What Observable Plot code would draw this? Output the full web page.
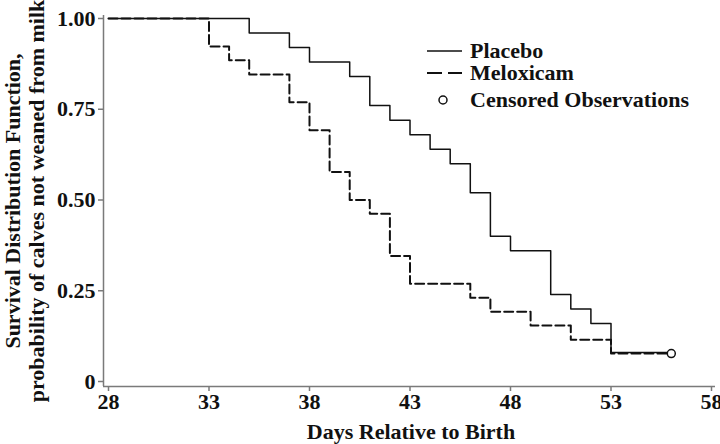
<!DOCTYPE html>
<html>
<head>
<meta charset="utf-8">
<script src="https://cdn.jsdelivr.net/npm/d3@7"></script>
<script src="https://cdn.jsdelivr.net/npm/@observablehq/plot@0.6"></script>
<style>
  html, body { margin: 0; padding: 0; background: #fff; }
  #chart { width: 720px; height: 444px; position: relative; }
</style>
</head>
<body>
<div id="chart"></div>
<script>
// Kaplan–Meier survival estimates (step-after)
const placeboDays = [28, 35, 37, 38, 40, 41, 42, 43, 44, 45, 46, 47, 48, 50, 51, 52, 53, 56];
const placeboSurv = [1.00, 0.96, 0.92, 0.88, 0.84, 0.76, 0.72, 0.68, 0.64, 0.60, 0.52, 0.40, 0.36, 0.24, 0.20, 0.16, 0.08, 0.08];
const meloxDays = [28, 33, 34, 35, 37, 38, 39, 40, 41, 42, 43, 46, 47, 49, 51, 53, 56];
const meloxSurv = [1.000, 0.923, 0.885, 0.846, 0.769, 0.692, 0.577, 0.500, 0.462, 0.346, 0.269, 0.231, 0.192, 0.154, 0.115, 0.077, 0.077];
const censorDays = [56];
const censorSurv = [0.077];
const xTicks = [28, 33, 38, 43, 48, 53, 58];
const yTicks = [0, 0.25, 0.50, 0.75, 1.00];
const seriesNames = ["Placebo", "Meloxicam", "Censored Observations"];
const xTitle = "Days Relative to Birth";
const yTitle = ["Survival Distribution Function,", "probability of calves not weaned from milk"];

const placebo = placeboDays.map((d, i) => ({day: d, s: placeboSurv[i]}));
const melox = meloxDays.map((d, i) => ({day: d, s: meloxSurv[i]}));
const censor = censorDays.map((d, i) => ({day: d, s: censorSurv[i]}));

const axisColor = "#7a7a7a";
const font = "'Liberation Serif', 'Times New Roman', serif";

const plot = Plot.plot({
  width: 720,
  height: 444,
  marginLeft: 108,
  marginRight: 9,
  marginTop: 18,
  marginBottom: 63,
  style: {fontFamily: font, fontSize: "22px", fontWeight: "bold", background: "#fff", color: "#111"},
  x: {domain: [28, 58]},
  y: {domain: [0, 1]},
  marks: [
    Plot.ruleY([0], {dy: 5, stroke: axisColor, strokeWidth: 1.5, insetLeft: -5, insetRight: -4}),
    Plot.ruleX([28], {dx: -5, stroke: axisColor, strokeWidth: 1.5, insetTop: -3, insetBottom: -5}),
    Plot.axisX({ticks: xTicks, tickFormat: d => String(d), tickSize: 5, tickPadding: 2, dy: 5, stroke: axisColor, strokeWidth: 1.5, fill: "#111", label: null, fontSize: 22, fontWeight: "bold"}),
    Plot.axisY({ticks: yTicks, tickFormat: d => d === 0 ? "0" : d.toFixed(2), tickSize: 5, tickPadding: 3, dx: -5, stroke: axisColor, strokeWidth: 1.5, fill: "#111", label: null, fontSize: 22, fontWeight: "bold"}),
    Plot.line(placebo, {x: "day", y: "s", curve: "step-after", stroke: "#111", strokeWidth: 1.5}),
    Plot.line(melox, {x: "day", y: "s", curve: "step-after", stroke: "#111", strokeWidth: 2, strokeDasharray: "9,4"}),
    Plot.dot(censor, {x: "day", y: "s", r: 4, stroke: "#111", strokeWidth: 1.5, fill: "#fff"})
  ]
});

document.getElementById("chart").appendChild(plot);

const svg = d3.select(plot);
// x axis title
svg.append("text")
  .attr("x", 411).attr("y", 439)
  .attr("text-anchor", "middle")
  .attr("font-family", font).attr("font-size", 22).attr("font-weight", "bold").attr("fill", "#111")
  .text(xTitle);
// y axis title, two lines
const yCenter = 201;
[20, 44].forEach((bx, i) => {
  svg.append("text")
    .attr("transform", `translate(${bx},${yCenter}) rotate(-90)`)
    .attr("text-anchor", "middle")
    .attr("font-family", font).attr("font-size", 22).attr("font-weight", "bold").attr("fill", "#111")
    .text(yTitle[i]);
});
// legend
const lg = svg.append("g").attr("font-family", font).attr("font-size", 22).attr("font-weight", "bold").attr("fill", "#111").attr("text-anchor", "start");
lg.append("line").attr("x1", 427).attr("x2", 462).attr("y1", 51).attr("y2", 51).attr("stroke", "#111").attr("stroke-width", 1.5);
lg.append("text").attr("x", 470).attr("y", 58).attr("text-anchor", "start").text(seriesNames[0]);
lg.append("line").attr("x1", 427).attr("x2", 462).attr("y1", 73).attr("y2", 73).attr("stroke", "#111").attr("stroke-width", 2).attr("stroke-dasharray", "15,6");
lg.append("text").attr("x", 470).attr("y", 80).attr("text-anchor", "start").text(seriesNames[1]);
lg.append("circle").attr("cx", 443).attr("cy", 100).attr("r", 4).attr("stroke", "#111").attr("stroke-width", 1.5).attr("fill", "#fff");
lg.append("text").attr("x", 470).attr("y", 107).attr("text-anchor", "start").text(seriesNames[2]);
</script>
</body>
</html>
